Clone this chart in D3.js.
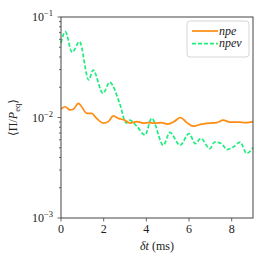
<!DOCTYPE html>
<html>
<head>
<meta charset="utf-8">
<script src="https://cdn.jsdelivr.net/npm/d3@7"></script>
<style>
  body { margin: 0; background: #fff; }
  text { font-family: "Liberation Serif", "DejaVu Serif", serif; }
</style>
</head>
<body>
<svg id="chart" width="266" height="266"></svg>
<script>
// data: time in ms, ratio <Pi/P_eq>
var npeT = [0, 0.2, 0.42, 0.58, 0.81, 0.97, 1.2, 1.44, 1.67, 1.98, 2.22, 2.45, 2.69, 3.0, 3.23, 3.55, 3.86, 4.1, 4.4, 4.7, 5.0, 5.3, 5.6, 5.9, 6.2, 6.6, 6.98, 7.3, 7.6, 7.92, 8.3, 8.7, 9.0]
var npeV = [0.0122, 0.0128, 0.0119, 0.0121, 0.0138, 0.0128, 0.0110, 0.0110, 0.0098, 0.0088, 0.0091, 0.0104, 0.0098, 0.0094, 0.0088, 0.0091, 0.0088, 0.0089, 0.0088, 0.0089, 0.0086, 0.0091, 0.0100, 0.0089, 0.0082, 0.0086, 0.0088, 0.0089, 0.0094, 0.0090, 0.0090, 0.0089, 0.0091]

var npenuT = [0, 0.2, 0.52, 0.87, 1.3, 1.5, 1.97, 2.28, 2.75, 3.06, 3.23, 3.55, 3.94, 4.25, 4.8, 5.1, 5.58, 6.0, 6.3, 6.55, 6.98, 7.2, 7.53, 7.77, 8.08, 8.4, 8.7, 9.0]
var npenuV = [0.0551, 0.0714, 0.0446, 0.0568, 0.0236, 0.0297, 0.0174, 0.0224, 0.0138, 0.0088, 0.0094, 0.0082, 0.0067, 0.0098, 0.0053, 0.0071, 0.0053, 0.0069, 0.0055, 0.0062, 0.0049, 0.0057, 0.0055, 0.0048, 0.0051, 0.0057, 0.0044, 0.0050]

var xTicks = [0, 2, 4, 6, 8]
var yMajor = [1e-3, 1e-2, 1e-1]
var yMajorLabels = ["\u22123", "\u22122", "\u22121"]
var seriesNames = ["npe", "npe\u03bd"]

var svg = d3.select("#chart")
var margin = { top: 17, right: 13, bottom: 48, left: 61 }
var width = 266 - margin.left - margin.right
var height = 266 - margin.top - margin.bottom

var g = svg.append("g").attr("transform", "translate(" + margin.left + "," + margin.top + ")")

var x = d3.scaleLinear().domain([0, 9]).range([0, width])
var y = d3.scaleLog().domain([1e-3, 1e-1]).range([height, 0])

var axisColor = "#444"

// minor ticks on y
var minor = []
;[1e-3, 1e-2].forEach(function (b) {
    for (var k = 2; k <= 9; k++) minor.push(b * k)
})

g.selectAll(".minor").data(minor).enter().append("line")
    .attr("x1", -2).attr("x2", 0)
    .attr("y1", function (d) { return y(d) }).attr("y2", function (d) { return y(d) })
    .attr("stroke", axisColor).attr("stroke-width", 0.8)

g.selectAll(".major").data(yMajor).enter().append("line")
    .attr("x1", -3.5).attr("x2", 0)
    .attr("y1", function (d) { return y(d) }).attr("y2", function (d) { return y(d) })
    .attr("stroke", axisColor).attr("stroke-width", 0.8)

var yl = g.selectAll(".ylab").data(yMajor).enter().append("text")
    .attr("x", -8).attr("y", function (d) { return y(d) + 4 })
    .attr("text-anchor", "end")
    .attr("font-size", 12)
    .attr("fill", "#222")
yl.append("tspan").text("10")
yl.append("tspan").attr("dy", -5).attr("font-size", 8.5)
    .text(function (d, i) { return yMajorLabels[i] })

// x ticks
g.selectAll(".xt").data(xTicks).enter().append("line")
    .attr("x1", function (d) { return x(d) }).attr("x2", function (d) { return x(d) })
    .attr("y1", height).attr("y2", height + 3.5)
    .attr("stroke", axisColor).attr("stroke-width", 0.8)

g.selectAll(".xlab").data(xTicks).enter().append("text")
    .attr("x", function (d) { return x(d) }).attr("y", height + 15)
    .attr("text-anchor", "middle")
    .attr("font-size", 12)
    .attr("fill", "#222")
    .text(function (d) { return d })

// lines
var line = d3.line()
    .x(function (d) { return x(d[0]) })
    .y(function (d) { return y(d[1]) })
    .curve(d3.curveMonotoneX)

g.append("path")
    .datum(npenuT.map(function (t, i) { return [t, npenuV[i]] }))
    .attr("d", line)
    .attr("fill", "none")
    .attr("stroke", "#1ded7c")
    .attr("stroke-width", 1.7)
    .attr("stroke-dasharray", "4,2")

g.append("path")
    .datum(npeT.map(function (t, i) { return [t, npeV[i]] }))
    .attr("d", line)
    .attr("fill", "none")
    .attr("stroke", "#ff8c11")
    .attr("stroke-width", 1.7)

// frame
g.append("rect")
    .attr("width", width).attr("height", height)
    .attr("fill", "none")
    .attr("stroke", axisColor).attr("stroke-width", 1)

// axis labels
svg.append("text")
    .attr("x", margin.left + width / 2).attr("y", 250)
    .attr("text-anchor", "middle")
    .attr("font-size", 12)
    .attr("fill", "#222")
    .html('<tspan font-style="italic">\u03b4t</tspan> (ms)')

var ylab = svg.append("text")
    .attr("transform", "translate(17," + (margin.top + height / 2) + ") rotate(-90)")
    .attr("text-anchor", "middle")
    .attr("font-size", 12)
    .attr("fill", "#222")
ylab.append("tspan").text("\u27e8\u03a0/")
ylab.append("tspan").attr("font-style", "italic").text("P")
ylab.append("tspan").attr("font-size", 8.5).attr("dy", 3).text("eq")
ylab.append("tspan").attr("dy", -3).text("\u27e9")

// legend
var leg = svg.append("g").attr("transform", "translate(187,21)")
leg.append("rect")
    .attr("width", 62).attr("height", 36).attr("rx", 3)
    .attr("fill", "#fff").attr("fill-opacity", 0.8)
    .attr("stroke", "#ccc").attr("stroke-width", 0.8)

var legColors = ["#ff8c11", "#1ded7c"]
var legDash = [null, "4,2"]
seriesNames.forEach(function (name, i) {
    var yy = 10 + i * 12.7
    leg.append("line")
        .attr("x1", 5).attr("x2", 31)
        .attr("y1", yy).attr("y2", yy)
        .attr("stroke", legColors[i]).attr("stroke-width", 1.7)
        .attr("stroke-dasharray", legDash[i])
    leg.append("text")
        .attr("x", 32).attr("y", yy + 3.5)
        .attr("font-size", 12)
        .attr("font-style", "italic")
        .attr("fill", "#222")
        .text(name)
})
</script>
</body>
</html>
